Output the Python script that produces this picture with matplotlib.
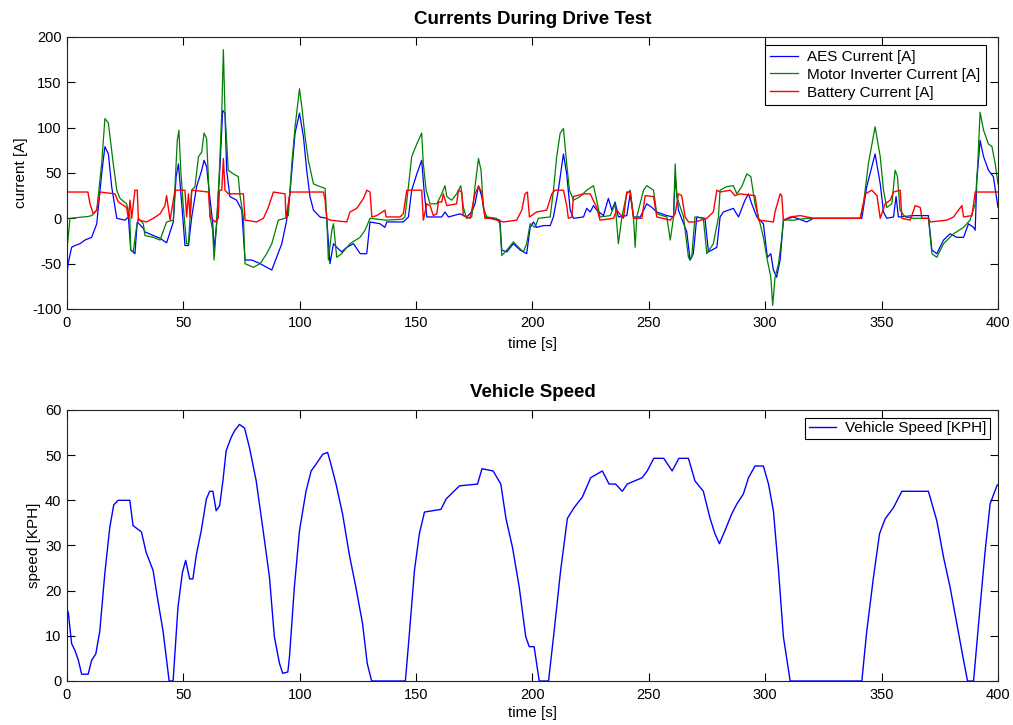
import numpy as np
import matplotlib
matplotlib.use("Agg")
import matplotlib.pyplot as plt

plt.rcParams['font.family'] = ['Liberation Sans', 'DejaVu Sans']
plt.rcParams['axes.unicode_minus'] = False

# AES current [A]
t_aes = [0, 0.5, 2, 3.4, 5.6, 7.7, 10.6, 12.8, 14.9, 16.3, 17.8, 19.2, 21.4, 24.9, 26.4, 27.4, 29.2, 30.2,
         32.8, 33.5, 37.1, 40, 42.8, 45.7, 46.9, 47.9, 49.3, 50.7, 52.2, 53.6, 55.7, 57.9, 58.9, 60, 61.2,
         62.6, 63.2, 64.3, 65.8, 66.9, 67.9, 68.6, 70, 72.9, 75.1, 76.5, 79.4, 83, 85.8, 88, 90.1, 92.3,
         94.4, 95.9, 98, 99.9, 101.6, 103, 104.4, 105.9, 108.7, 111.6, 113, 114.5, 115.9, 118, 120.2,
         123.1, 126, 128.8, 130.2, 134.5, 136.6, 137.4, 144.5, 146.7, 148.1, 150.3, 152.4, 153.4, 154.6,
         161, 162.4, 163.9, 168.9, 171.7, 173.9, 175.3, 176.8, 178.2, 179.6, 186, 186.8, 189, 191.8,
         194.7, 197.5, 199, 200.4, 201.8, 204.7, 207.6, 209, 211.1, 213.3, 214.7, 216.2, 217.6, 221.9,
         223.3, 224.8, 226.2, 227.6, 230.5, 232.6, 234.1, 235.5, 236.9, 240.5, 242, 243.4, 246.3, 249.1,
         251.3, 253.4, 257.7, 260.6, 261.3, 262.7, 266.3, 267.7, 269.1, 270.6, 274.1, 275.6, 279.2,
         280.6, 282, 286.3, 288.5, 291.3, 292.8, 294.2, 296.4, 299.2, 300.9, 302.4, 303.5, 304.9, 306.4,
         307.8, 312.1, 317.8, 320.7, 341.5, 343.6, 347.2, 349.4, 350.8, 352.2, 355.1, 356.2, 357.2,
         363.7, 370.1, 371.6, 373.7, 376.6, 379.4, 382.3, 385.2, 387.3, 389.5, 390.2, 390.9, 392.3,
         393.8, 395.9, 398, 400]
aes = [-62, -50, -32, -30, -28, -24, -21, -6, 49, 79, 71, 35, 0, -2, 1.5, -35, -39, -4,
       -11, -15, -19, -22, -27, -4, 46, 60, 16, -30, -30, 1.5, 35, 53, 64, 57, 27,
       -4, -35, -6, 60, 119, 116, 53, 24, 20, 9, -46, -46, -50, -54, -57, -43, -28,
       -2, 31, 94, 116, 90, 53, 24, 9, 1.5, 0, -50, -28, -32, -37, -32,
       -28, -39, -39, -4, -6, -10, -4, -4, 1.5, 31, 49, 64, 31, 1.5,
       1.5, 7, 1.5, 5, 1.5, 7, 16, 36, 24, 1.5, -2, -35, -37, -28,
       -35, -39, -10, -4, -10, -8, -8, 1.5, 31, 71, 49, 9, 0, 1.5,
       11, 7, 14, 9, 3, 22, 9, 18, 1.5, 3, 27, 1.5, 1.5, 16,
       12, 7, 3, 1.5, 46, 9, -15, -46, -39, 1.5, 0, -37, -32,
       1.5, 7, 11, 1.5, 20, 27, 16, 1.5, -6, -43, -39, -57, -65, -46,
       -2, 1.5, -4, 0, 0, 35, 71, 38, 7, 0, 1.5, 24, 1.5,
       3, 3, -35, -39, -24, -17, -21, -21, -6, -10, -13, 42, 86,
       68, 53, 46, 12]

# Motor inverter current [A]
t_inv = [0, 1.3, 5, 9, 10.6, 12.8, 14.9, 16.3, 17.8, 19.9, 21.4, 22.8, 25.6, 27, 27.4, 28.5, 29.7, 30.7,
         32.8, 33.5, 37.1, 40, 42.8, 45.7, 46.4, 47.4, 48.1, 48.9, 50, 51.4, 52.2, 53.6, 55, 56.5, 57.9,
         58.9, 60, 60.8, 61.5, 62.6, 63.2, 64.3, 65.5, 66.5, 67.2, 67.9, 69.3, 71.5, 73.6, 74.4, 75.8,
         76.5, 80.1, 83, 85.8, 88, 90.8, 93.7, 95.1, 96.6, 98, 99.9, 100.9, 102.3, 103.7, 105.9, 108.7,
         110.9, 111.6, 112.3, 113.8, 114.5, 115.9, 118, 121.6, 125.9, 128.1, 130.2, 137, 144, 145.2,
         146.7, 148.1, 150.3, 152.4, 153.1, 154.3, 156, 158.9, 161, 162.4, 163.2, 165.3, 167.4, 169.2,
         170.3, 171.7, 173.9, 175.3, 176.8, 177.9, 178.9, 180.3, 184.6, 186, 186.8, 189, 191.8, 194,
         196.1, 197.5, 199, 201.1, 202.5, 207.6, 209, 210.4, 211.9, 213.3, 214.7, 215.9, 217.6, 220.5,
         223.3, 226.2, 227.6, 229, 233.4, 235.5, 236.9, 238.4, 240.5, 242, 243.4, 244.1, 244.8, 247.7,
         249.1, 252, 253.4, 257.7, 259.2, 260.6, 261.3, 262, 264.9, 267, 267.7, 268.4, 269.8, 273.4,
         274.9, 277.7, 279.9, 280.6, 283.5, 286.3, 287.8, 289.9, 292.1, 293.8, 295.6, 297.8, 299.2,
         300.9, 302.4, 303.2, 304.2, 305.7, 307.1, 307.8, 312.1, 317.8, 340.8, 342.2, 344.3, 347.2,
         349.4, 350.8, 352.2, 354.4, 355.8, 356.8, 357.9, 360.1, 363.7, 370.1, 371.6, 373.7, 376.6,
         380.9, 385.2, 388, 390.2, 391.3, 392.3, 393.8, 395.9, 397.4, 398.8, 400]
inv = [-35, 0, 1, 2, 3, 9, 60, 110, 105, 60, 31, 22, 16, 1.5, -35, -37, -13, 0,
       -6, -19, -21, -24, -4, -2, 35, 86, 97, 53, 12, -28, -28, 31, 35, 68, 73,
       94, 88, 42, 1.5, -13, -46, -6, 53, 116, 186, 116, 53, 49, 46, 24, 1.5,
       -50, -54, -50, -39, -28, -2, 0, 3, 60, 101, 143, 123, 90, 64, 38, 35,
       33, 1.5, -46, -13, -6, -43, -39, -28, -21, -13, 0, -2, -1, 1.5,
       35, 68, 82, 94, 60, 31, 16, 16, 27, 36, 24, 20, 27, 36,
       12, 0, 1.5, 35, 66, 53, 12, 1.5, 0, -6, -41, -35, -26, -32,
       -37, -28, -6, -10, 0, 1.5, 31, 68, 94, 99, 60, 31, 20, 24,
       31, 36, 20, 1.5, 3, 16, -28, 1.5, 27, 31, 1.5, -32, 1.5, 31,
       36, 31, 5, 1.5, -24, 1.5, 60, 24, 1.5, -43, -46, -43, 1.5, 0,
       -39, -28, 1.5, 31, 35, 36, 27, 35, 49, 46, 16, -6, -21,
       -46, -65, -96, -65, -50, -21, -2, -2, 0, 0, 16, 60, 101,
       68, 31, 12, 16, 53, 46, 9, 1.5, 0, 0, -39, -43, -28,
       -17, -10, -2, 16, 60, 117, 97, 82, 79, 60, 38]

# Battery current [A]
t_bat = [0, 9, 9.9, 11.3, 12.8, 14.2, 20.6, 22.1, 25.6, 26.4, 27.1, 27.8, 29.2, 30.2, 30.7, 34.2, 37.1,
         40, 42.1, 42.8, 44.3, 46.4, 50.7, 51.4, 52.2, 52.9, 53.6, 60.8, 61.5, 63.6, 65, 65.5, 66.5,
         67.2, 67.9, 69.3, 75.8, 76.5, 81.5, 84.4, 86.5, 88.7, 93.7, 94.1, 95.9, 110.2, 110.9, 111.6,
         113, 120.2, 121.6, 124.5, 127.4, 128.8, 130.2, 131, 133.1, 136.6, 137.1, 143.1, 144.5, 146,
         152.4, 153.1, 154.6, 156, 157.4, 158.9, 159.6, 161, 161.7, 163.2, 167.4, 168.2, 169.6, 170.3,
         173.2, 175.3, 176.8, 178.2, 179.6, 181.8, 184.6, 187.5, 193.2, 195.4, 196.8, 197.8, 198.7,
         201.8, 206.1, 208.3, 209.7, 213.3, 214.7, 215.4, 216.9, 217.6, 221.9, 224.8, 227.6, 229,
         234.8, 236.2, 239.1, 240.5, 242, 243.4, 247, 248.4, 252, 253.4, 259.2, 261.3, 262.7, 264.1,
         265.6, 267, 270, 274.9, 277.7, 279.2, 280.6, 285, 287, 289, 295.6, 297.1, 303.5, 304.2,
         306.4, 307.1, 307.8, 310.7, 315, 320.7, 340.8, 343, 345.8, 348, 349.4, 351.5, 353.7, 355.1,
         358, 358.7, 362.3, 364.4, 366.6, 367.3, 370.1, 370.9, 378, 380.9, 383, 384.5, 385.2, 388.8,
         390.2, 400]
bat = [29, 29, 16, 5, 9, 29, 27, 18, 12, 0, 20, 0, 31, 31, -2, -4, 0,
       5, 14, 25, -2, 31, 31, 1.5, 27, 1.5, 31, 29, 1.5, -4, 0, 31, 31,
       66, 31, 27, 27, -2, -4, 0, 12, 29, 27, 0, 29, 29, 20, 0,
       -2, -4, 7, 11, 22, 31, 29, 1.5, 3, 9, 1.5, 1.5, 5, 31,
       31, -2, 16, 14, 3, 5, 18, 18, 27, 14, 16, 31, 29, 3,
       0, 27, 35, 29, 0, 0, -2, -4, -2, 9, 27, 29, 1.5,
       7, 9, 27, 31, 31, 14, 0, 1.5, 24, 27, 27, 12, -2,
       0, 9, 0, 29, 29, 0, 0, 25, 24, 1.5, -2, 5, 27, 25,
       1.5, -4, -4, 0, 7, 31, 29, 31, 25, 27, 25, -2, -4, 7,
       27, 25, -2, 1.5, 3, 0, 0, 27, 31, 25, 0, 16, 20, 29,
       31, 0, -2, 14, 12, 0, 0, -4, -2, 1.5, 9, 14, 1.5, 3,
       29, 29]

# Vehicle speed [KPH]
t_speed = [0, 0.6, 2, 3.4, 4.9, 6.3, 9.1, 10.6, 12.4, 14.1, 16.3, 18.4, 20.1, 22, 27, 28.4, 32, 34, 37, 39,
           41.3, 43.9, 45.6, 47.7, 49.6, 51, 52.7, 54.1, 55.6, 57.7, 59.9, 61.3, 62.7, 64.1, 65.6, 67,
           68.4, 70.6, 72, 74.1, 76.3, 78.4, 81.3, 84.1, 87, 89.1, 91.3, 92.7, 94.9, 95.6, 97.7, 99.9,
           102.7, 104.9, 107, 109.9, 112, 113.4, 115.6, 118.4, 121.3, 124.1, 127, 129, 130.9, 145.4,
           147, 149.3, 151.4, 153.6, 160.7, 162.9, 168.6, 176.4, 178.3, 183.1, 186.4, 188.6, 191.4,
           194.3, 197.1, 198.6, 200.7, 202.9, 206.9, 209.3, 212.1, 215, 217.9, 221.4, 225, 230, 232.9,
           235.7, 238.6, 240.7, 247.1, 249.3, 252.1, 256.4, 258.6, 260, 262.9, 267, 269.8, 273.4,
           276.3, 278.4, 280.3, 282.7, 285.6, 287.8, 290.6, 292.8, 295.6, 299.2, 301.4, 303.5, 305.7,
           307.8, 310.7, 341.5, 343.6, 346.5, 349.1, 351.5, 355.1, 358.7, 370.1, 373.7, 376.6, 379.4,
           382.3, 385.2, 386.9, 389.5, 392.4, 394.5, 396.6, 399.5, 400]
speed = [16, 15, 8.3, 6.8, 4.6, 1.5, 1.5, 4.6, 6, 11, 24, 34, 39, 40, 40, 34.4, 33, 28.5, 24.5, 18,
         11, 0, 0, 16.4, 24, 26.7, 22.6, 22.6, 28, 33.3, 40.3, 42, 42, 37.7, 38.8, 44.3,
         51, 54, 55.4, 56.8, 56, 51.7, 44.3, 34, 23, 9.8, 3.9, 1.7, 2, 5.4, 20.8, 33.3,
         42, 46.5, 48, 50.2, 50.6, 48, 43.6, 37, 28, 20.8, 12.7, 3.9, 0, 0,
         9.8, 24.5, 32.6, 37.4, 38, 40.3, 43.2, 43.6, 47, 46.5, 43.6, 36, 29.6,
         20.8, 9.8, 7.6, 7.6, 0, 0, 11, 24.5, 36, 38.4, 40.7, 45, 46.5, 43.6,
         43.6, 42, 43.6, 45, 46.5, 49.3, 49.3, 47.6, 46.5, 49.3, 49.3, 44.3, 42,
         36, 32.6, 30.4, 33.3, 37, 39.2, 41.4, 45, 47.6, 47.6, 43.6, 37.7, 24.5,
         9.8, 0, 0, 11, 23, 32.6, 35.9, 38.4, 42, 42, 35.5, 27.4, 20.8,
         12.7, 4.6, 0, 0, 17, 28.9, 39.2, 43.2, 43.5]

fig = plt.figure(figsize=(10.13, 7.25), dpi=100)
ax1 = fig.add_axes([0.0661, 0.5738, 0.9191, 0.3752])
ax2 = fig.add_axes([0.0661, 0.0607, 0.9191, 0.3738])

ax1.plot(t_aes, aes, color=(0, 0, 1), lw=0.9, label='AES Current [A]')
ax1.plot(t_inv, inv, color=(0, 0.5, 0), lw=0.9, label='Motor Inverter Current [A]')
ax1.plot(t_bat, bat, color=(1, 0, 0), lw=1.0, label='Battery Current [A]')
ax1.set_xlim(0, 400)
ax1.set_ylim(-100, 200)
ax1.set_yticks(np.arange(-100, 201, 50))
ax1.set_title('Currents During Drive Test', fontsize=13.5, fontweight='bold', pad=9)
ax1.set_xlabel('time [s]', fontsize=11, labelpad=5)
ax1.set_ylabel('current [A]', fontsize=11, labelpad=3)
leg1 = ax1.legend(loc='upper right', fontsize=11, fancybox=False, edgecolor='black',
                  framealpha=1, borderaxespad=0.5, handlelength=1.8, handletextpad=0.6,
                  labelspacing=0.25, borderpad=0.35, bbox_to_anchor=(0.995, 1.0))
leg1.get_frame().set_linewidth(0.8)

ax2.plot(t_speed, speed, color=(0, 0, 1), lw=1.0, label='Vehicle Speed [KPH]')
ax2.set_xlim(0, 400)
ax2.set_ylim(0, 60)
ax2.set_yticks(np.arange(0, 61, 10))
ax2.set_title('Vehicle Speed', fontsize=13.5, fontweight='bold', pad=9)
ax2.set_xlabel('time [s]', fontsize=11, labelpad=3)
ax2.set_ylabel('speed [KPH]', fontsize=11, labelpad=3)
leg2 = ax2.legend(loc='upper right', fontsize=11, fancybox=False, edgecolor='black',
                  framealpha=1, borderaxespad=0.5, handlelength=1.8, handletextpad=0.6,
                  borderpad=0.25)
leg2.get_frame().set_linewidth(0.8)

for ax in (ax1, ax2):
    ax.set_xticks(np.arange(0, 401, 50))
    ax.tick_params(direction='in', top=True, right=True, labelsize=10.5, length=6, width=0.8)
    ax.tick_params(axis='x', pad=5)
    ax.tick_params(axis='y', pad=4)
    for s in ax.spines.values():
        s.set_color('#222222')
        s.set_linewidth(0.8)

fig.savefig('out.png', dpi=100)
